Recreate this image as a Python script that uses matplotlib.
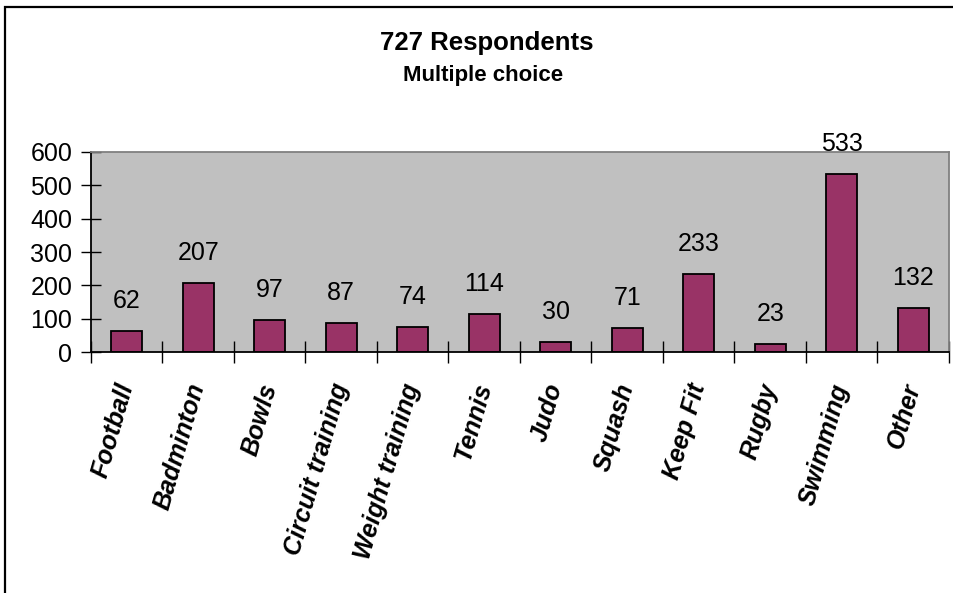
import numpy as np
import matplotlib.pyplot as plt
from matplotlib.patches import Rectangle
from matplotlib.ticker import FixedLocator

plt.rcParams['font.family'] = ['Liberation Sans', 'DejaVu Sans']

# chart data
sports = ['Football', 'Badminton', 'Bowls', 'Circuit training', 'Weight training',
          'Tennis', 'Judo', 'Squash', 'Keep Fit', 'Rugby', 'Swimming', 'Other']
counts = [62, 207, 97, 87, 74, 114, 30, 71, 233, 23, 533, 132]
y_ticks = [0, 100, 200, 300, 400, 500, 600]

fig = plt.figure(figsize=(9.54, 5.93), dpi=100)
W, H = 954, 593

# outer chart border (only left and top edges are visible in the picture)
fig.patches.append(Rectangle((5 / W, -0.05), 1.2, 1 - 7 / H + 0.05,
                             transform=fig.transFigure, fill=False,
                             edgecolor='black', linewidth=1.6))

ax = fig.add_axes([91 / W, 1 - 352 / H, (949 - 91) / W, 200 / H])
ax.set_facecolor('#C0C0C0')

x = np.arange(len(sports))
bars = ax.bar(x, counts, width=0.43, color='#993366', edgecolor='black', linewidth=1.3)
ax.bar_label(bars, labels=[str(c) for c in counts], padding=13, fontsize=18)

ax.set_xlim(-0.5, len(sports) - 0.5)
ax.set_ylim(0, 600)
ax.set_yticks(y_ticks)
ax.tick_params(axis='y', direction='inout', length=15, width=1, labelsize=18, pad=6)

# ticks between categories, labels at centres
ax.set_xticks(x)
ax.set_xticklabels(sports, rotation=74, ha='right', va='center', rotation_mode='anchor',
                   fontsize=18, fontweight='bold', fontstyle='italic')
ax.xaxis.set_minor_locator(FixedLocator(np.arange(-0.5, len(sports), 1.0)))
ax.tick_params(axis='x', which='major', length=0, pad=23)
ax.tick_params(axis='x', which='minor', direction='inout', length=16, width=1)

for side in ['top', 'right']:
    ax.spines[side].set_color('#808080')
    ax.spines[side].set_linewidth(1.3)
for side in ['left', 'bottom']:
    ax.spines[side].set_color('black')
    ax.spines[side].set_linewidth(1.3)

fig.text(487 / W, 1 - 43 / H, '727 Respondents', ha='center', va='center',
         fontsize=18.5, fontweight='bold')
fig.text(483 / W, 1 - 76 / H, 'Multiple choice', ha='center', va='center',
         fontsize=16, fontweight='bold')

fig.savefig('out.png', dpi=100)
